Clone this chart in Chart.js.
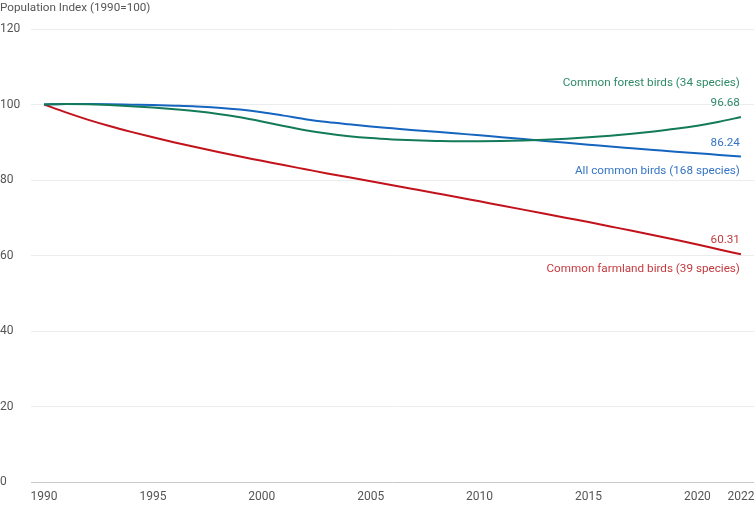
<!DOCTYPE html>
<html>
<head>
<meta charset="utf-8">
<script src="https://cdn.jsdelivr.net/npm/chart.js@4"></script>
<style>
  body { margin: 0; background: #fff; }
  #wrap { width: 754px; height: 506px; }
</style>
</head>
<body>
<div id="wrap"><canvas id="birdsChart"></canvas></div>
<script>
const years = [1990, 1991, 1992, 1993, 1994, 1995, 1996, 1997, 1998, 1999, 2000, 2001, 2002, 2003, 2004, 2005,
  2006, 2007, 2008, 2009, 2010, 2011, 2012, 2013, 2014, 2015, 2016, 2017, 2018, 2019, 2020, 2021, 2022];
const forestBirds = [100, 100.1, 100.05, 99.85, 99.55, 99.2, 98.75, 98.2, 97.5, 96.6, 95.5, 94.3, 93.2, 92.3, 91.6, 91.1,
  90.75, 90.5, 90.35, 90.25, 90.25, 90.3, 90.45, 90.65, 90.95, 91.3, 91.75, 92.25, 92.85, 93.55, 94.4, 95.45, 96.68];
const allBirds = [100, 100.1, 100.1, 100.05, 99.95, 99.85, 99.7, 99.5, 99.15, 98.65, 97.95, 97.05, 96.1, 95.35, 94.75, 94.2,
  93.7, 93.2, 92.75, 92.3, 91.85, 91.35, 90.85, 90.35, 89.85, 89.35, 88.85, 88.4, 87.95, 87.5, 87.1, 86.65, 86.24];
const farmlandBirds = [100, 97.9, 96.0, 94.3, 92.75, 91.3, 89.95, 88.65, 87.4, 86.2, 85.1, 83.95, 82.85, 81.75, 80.7, 79.65,
  78.6, 77.55, 76.5, 75.45, 74.35, 73.25, 72.15, 71.05, 69.95, 68.85, 67.7, 66.55, 65.35, 64.15, 62.9, 61.6, 60.31];
const seriesNames = ["Common forest birds (34 species)", "All common birds (168 species)", "Common farmland birds (39 species)"];
const xTicks = [1990, 1995, 2000, 2005, 2010, 2015, 2020, 2022];
const yTicks = [0, 20, 40, 60, 80, 100, 120];

const lineColors = ["#137a5a", "#1565c0", "#c2121c"];
const textColors = ["#2f8a68", "#3574c4", "#c43a3e"];
// offsets of name / value labels from the last point (px)
const labelOffsets = [[-34, -14], [15, -13], [15, -14]];

function toPoints(values) {
  return values.map((v, i) => ({ x: years[i], y: v }));
}

const endLabels = {
  id: "endLabels",
  afterDatasetsDraw(chart) {
    const ctx = chart.ctx;
    const xs = chart.scales.x;
    const ys = chart.scales.y;
    ctx.save();
    ctx.font = "11.7px Roboto";
    ctx.textAlign = "right";
    ctx.textBaseline = "middle";
    chart.data.datasets.forEach((ds, i) => {
      const last = ds.data[ds.data.length - 1];
      const px = xs.getPixelForValue(last.x) - 1;
      const py = ys.getPixelForValue(last.y);
      ctx.fillStyle = textColors[i];
      ctx.fillText(seriesNames[i], px, py + labelOffsets[i][0]);
      ctx.fillText(last.y.toFixed(2), px, py + labelOffsets[i][1]);
    });
    // axis title
    ctx.textAlign = "left";
    ctx.fillStyle = "#555";
    ctx.fillText("Population Index (1990=100)", 0, 8);
    ctx.restore();
  }
};

new Chart(document.getElementById("birdsChart"), {
  type: "line",
  data: {
    datasets: [
      { label: seriesNames[0], data: toPoints(forestBirds), borderColor: lineColors[0] },
      { label: seriesNames[1], data: toPoints(allBirds), borderColor: lineColors[1] },
      { label: seriesNames[2], data: toPoints(farmlandBirds), borderColor: lineColors[2] },
    ],
  },
  options: {
    responsive: true,
    maintainAspectRatio: false,
    animation: false,
    layout: { padding: { top: 29, right: 0, bottom: 2, left: 0 } },
    elements: {
      point: { radius: 0 },
      line: { borderWidth: 2, tension: 0.4, cubicInterpolationMode: "monotone", fill: false },
    },
    plugins: { legend: { display: false }, tooltip: { enabled: false } },
    scales: {
      x: {
        type: "linear",
        min: 1989.4,
        max: 2022.6,
        afterBuildTicks: (scale) => { scale.ticks = xTicks.map((v) => ({ value: v })); },
        afterFit: (scale) => { scale.paddingLeft = 0; scale.paddingRight = 0; scale.height = 22; },
        grid: { display: false, drawTicks: false },
        border: { display: false },
        ticks: {
          color: "#555",
          font: { family: "Roboto", size: 12 },
          padding: 8,
          maxRotation: 0,
          autoSkip: false,
          callback: (v) => String(v),
        },
      },
      y: {
        min: 0,
        max: 120,
        afterBuildTicks: (scale) => { scale.ticks = yTicks.map((v) => ({ value: v })); },
        afterFit: (scale) => { scale.width = 31; scale.paddingTop = 0; scale.paddingBottom = 0; },
        border: { display: false },
        grid: {
          drawTicks: false,
          color: (c) => (c.tick && c.tick.value === 0 ? "#c8c8c8" : "#ececec"),
        },
        ticks: {
          color: "#555",
          font: { family: "Roboto", size: 12 },
          crossAlign: "far",
          padding: 0,
        },
      },
    },
  },
  plugins: [endLabels],
});
</script>
</body>
</html>
